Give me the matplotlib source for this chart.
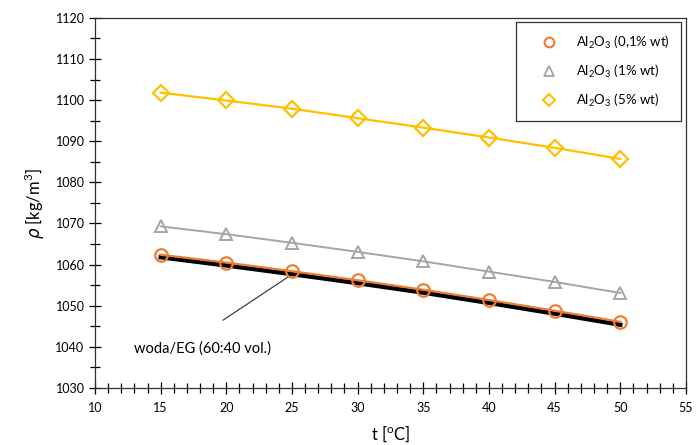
import matplotlib.pyplot as plt
from matplotlib.lines import Line2D
from matplotlib.ticker import MultipleLocator

plt.rcParams['font.family'] = ['Lato', 'DejaVu Sans']
plt.rcParams['mathtext.fontset'] = 'dejavusans'

t = [15, 20, 25, 30, 35, 40, 45, 50]
rho_01 = [1062.4, 1060.5, 1058.4, 1056.2, 1053.9, 1051.4, 1048.8, 1046.1]
rho_1 = [1069.3, 1067.4, 1065.3, 1063.1, 1060.8, 1058.3, 1055.8, 1053.1]
rho_5 = [1101.8, 1099.9, 1097.9, 1095.6, 1093.3, 1090.9, 1088.4, 1085.7]
rho_base = [1061.8, 1059.8, 1057.7, 1055.5, 1053.2, 1050.7, 1048.1, 1045.4]

labels = [r'Al$_\mathregular{2}$O$_\mathregular{3}$ (0,1% wt)',
          r'Al$_\mathregular{2}$O$_\mathregular{3}$ (1% wt)',
          r'Al$_\mathregular{2}$O$_\mathregular{3}$ (5% wt)']

c_orange = '#ED7D31'
c_gray = '#A5A5A5'
c_gold = '#FFC000'

fig = plt.figure(figsize=(6.96, 4.45), dpi=100)
ax = fig.add_axes([0.1365, 0.128, 0.849, 0.832])

ax.plot(t, rho_base, color='black', lw=3.2, zorder=2)
ax.plot(t, rho_01, color=c_orange, lw=1.6, zorder=3)
ax.plot(t, rho_01, 'o', ms=9, mfc='none', mec=c_orange, mew=1.6, zorder=4)
ax.plot(t, rho_1, color=c_gray, lw=1.4, zorder=3)
ax.plot(t, rho_1, '^', ms=9, mfc='none', mec=c_gray, mew=1.4, zorder=4)
ax.plot(t, rho_5, color=c_gold, lw=1.6, zorder=3)
ax.plot(t, rho_5, 'D', ms=8, mfc='none', mec=c_gold, mew=1.6, zorder=4)

# leader line + label for the base fluid
ax.annotate('', xy=(24.7, 1057.0), xytext=(19.75, 1046.5),
            arrowprops=dict(arrowstyle='-', color='#404040', lw=0.9,
                            shrinkA=0, shrinkB=0))
ax.text(13.0, 1039.7, 'woda/EG (60:40 vol.)', fontsize=10.5, va='center', ha='left')

ax.set_xlim(10, 55)
ax.set_ylim(1030, 1120)
ax.xaxis.set_major_locator(MultipleLocator(5))
ax.xaxis.set_minor_locator(MultipleLocator(1))
ax.yaxis.set_major_locator(MultipleLocator(10))
ax.yaxis.set_minor_locator(MultipleLocator(5))
ax.tick_params(which='major', direction='inout', length=8, width=0.9, labelsize=9)
ax.tick_params(which='minor', direction='inout', length=7, width=0.9)
ax.tick_params(axis='x', pad=6)

for s in ax.spines.values():
    s.set_linewidth(0.9)
    s.set_color('#303030')

ax.set_xlabel('t [$^\\mathregular{o}$C]', fontsize=12, labelpad=7)
ax.set_ylabel(r'$\rho$ [kg/m$^\mathregular{3}$]', fontsize=12, labelpad=6)

handles = [Line2D([], [], ls='none', marker='o', ms=7, mfc='none', mec=c_orange, mew=1.5),
           Line2D([], [], ls='none', marker='^', ms=7, mfc='none', mec=c_gray, mew=1.3),
           Line2D([], [], ls='none', marker='D', ms=6, mfc='none', mec=c_gold, mew=1.5)]
leg = ax.legend(handles, labels, loc='upper right', bbox_to_anchor=(0.992, 0.988),
                fontsize=9.5, frameon=True, fancybox=False, edgecolor='black',
                borderpad=0.9, labelspacing=0.9, handlelength=3.2, handletextpad=0.4,
                borderaxespad=0)
leg.get_frame().set_linewidth(0.9)

fig.savefig('out.png', dpi=100)
